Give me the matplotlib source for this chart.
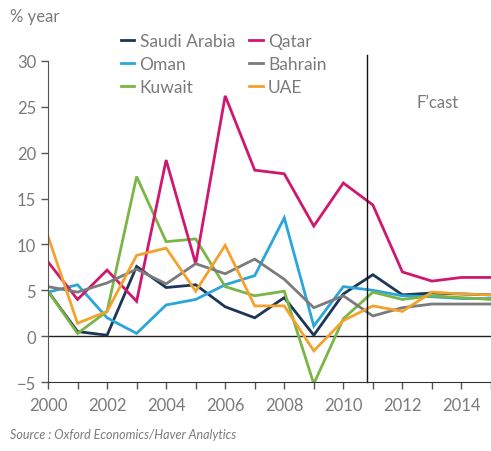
import matplotlib.pyplot as plt

# годы и рост ВВП (% в год) по странам ССАГПЗ
years = list(range(2000, 2016))
saudi = [4.9, 0.5, 0.1, 7.6, 5.3, 5.6, 3.2, 2.0, 4.2, 0.1, 4.6, 6.7, 4.5, 4.7, 4.6, 4.5]
qatar = [8.1, 4.0, 7.2, 3.8, 19.2, 7.9, 26.2, 18.1, 17.7, 12.0, 16.7, 14.3, 7.0, 6.0, 6.4, 6.4]
oman = [4.8, 5.6, 2.0, 0.3, 3.4, 4.0, 5.6, 6.6, 12.9, 1.1, 5.4, 5.0, 4.4, 4.3, 4.1, 4.1]
bahrain = [5.4, 4.8, 5.8, 7.3, 5.7, 7.9, 6.8, 8.4, 6.2, 3.1, 4.4, 2.2, 3.1, 3.5, 3.5, 3.5]
kuwait = [4.9, 0.3, 2.7, 17.4, 10.3, 10.6, 5.4, 4.4, 4.9, -5.2, 1.9, 4.8, 4.0, 4.4, 4.2, 4.0]
uae = [10.9, 1.4, 2.7, 8.8, 9.6, 4.9, 9.9, 3.3, 3.3, -1.6, 1.7, 3.3, 2.7, 4.8, 4.6, 4.5]

names = ['Saudi Arabia', 'Oman', 'Kuwait', 'Qatar', 'Bahrain', 'UAE']
series = [saudi, oman, kuwait, qatar, bahrain, uae]
colors = ['#1d3557', '#2aa6dc', '#7ab545', '#d0176f', '#7b7b7b', '#f2a22d']

forecast_from = 2010.8

plt.rcParams['font.family'] = 'Lato'
txt = '#7a7a7a'

fig = plt.figure(figsize=(4.91, 4.52), dpi=100)
ax = fig.add_axes([48 / 491, 1 - 383 / 452, 443 / 491, 321 / 452])

for name, vals, c in zip(names, series, colors):
    ax.plot(years, vals, color=c, lw=2.0, label=name, solid_joinstyle='miter')

ax.axhline(0, color='#222222', lw=1.0, zorder=1)
ax.axvline(forecast_from, ymin=0, ymax=1.02, color='#111111', lw=1.0, clip_on=False)
ax.text(2013.2, 25.5, 'F\u2019cast', color=txt, fontsize=12, ha='center', va='center')

ax.set_xlim(2000, 2015)
ax.set_ylim(-5, 30)
ax.set_xticks(years)
ax.set_xticklabels([str(y) if y % 2 == 0 and y < 2015 else '' for y in years])
ax.set_yticks(range(-5, 31, 5))

for s in ['top', 'right']:
    ax.spines[s].set_visible(False)
ax.spines['left'].set_color('#555555')
ax.spines['bottom'].set_color('#333333')
ax.tick_params(axis='both', colors='#555555', labelcolor=txt, labelsize=12,
               length=5, width=1)
ax.tick_params(axis='x', pad=6)

leg = ax.legend(ncol=2, loc='upper left', bbox_to_anchor=(0.148, 1.11), frameon=False,
                fontsize=12.5, handlelength=0.8, handletextpad=0.3, columnspacing=0.8,
                labelspacing=0.42, borderaxespad=0)
for t in leg.get_texts():
    t.set_color(txt)

fig.text(10 / 491, 1 - 17 / 452, '% year', color=txt, fontsize=12, va='center')
fig.text(10 / 491, 1 - 435 / 452, 'Source : Oxford Economics/Haver Analytics',
         color=txt, fontsize=9, style='italic', va='center')

fig.savefig('out.png', dpi=100)
